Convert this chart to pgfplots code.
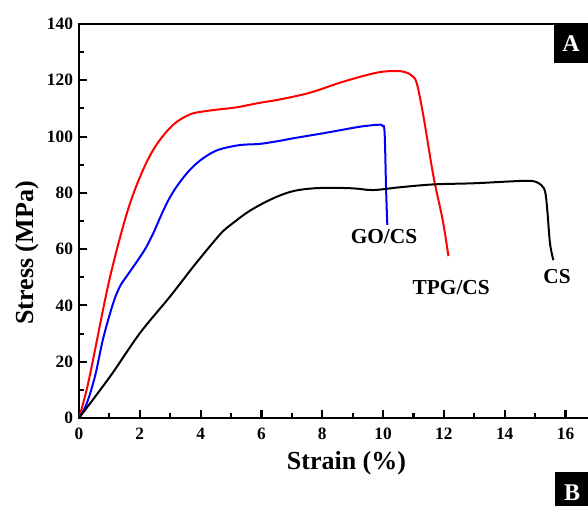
\documentclass[border=0pt]{standalone}
\usepackage{fontspec}
\setmainfont{Liberation Serif}
\usepackage{pgfplots}
\pgfplotsset{compat=1.18}

\begin{document}
\begin{tikzpicture}
\useasboundingbox (-59.25pt,-66pt) rectangle (381.75pt,313.5pt);
\begin{axis}[
  scale only axis,
  width=381.75pt, height=295.5pt,
  xmin=0, xmax=16.74, ymin=0, ymax=140,
  axis x line=box, axis y line=left,
  axis line style={-, line width=2pt, line cap=rect},
  xtick={0,2,...,16}, ytick={0,20,...,140},
  minor x tick num=1, minor y tick num=1,
  xtick pos=bottom, ytick pos=left,
  tick align=inside,
  major tick length=6pt, minor tick length=3.5pt,
  every tick/.style={black, line width=1.6pt},
  /pgf/number format/assume math mode=true,
  ticklabel style={font=\fontsize{13}{15}\selectfont\bfseries},
  xticklabel style={yshift=-4pt},
  yticklabel style={xshift=-1pt},
  xlabel={Strain (\%)},
  ylabel={Stress (MPa)},
  label style={font=\fontsize{19.5}{22}\selectfont\bfseries},
  xlabel style={at={(axis description cs:0.5255,-0.114)}, anchor=center},
  ylabel style={at={(axis description cs:-0.102,0.419)}, anchor=center, rotate=0},
  clip=false,
  every axis plot/.append style={line width=1.5pt, smooth, tension=0.55},
]
% TPG/CS
\addplot[red] coordinates {
(0,0) (0.31,12.8) (0.855,41.9) (1.13,55) (1.51,70.4) (1.8,80) (2.12,88.5)
(2.4,94.5) (2.66,98.8) (2.95,102.6) (3.21,105.2) (3.5,107.1) (3.76,108.3)
(4.2,109.1) (4.64,109.7) (5.19,110.4) (5.95,112.0) (6.61,113.2) (7.6,115.6)
(8.69,119.5) (9.79,122.7) (10.45,123.3) (10.75,122.8) (10.95,121.6)
(11.11,118.9) (11.33,107.1) (11.66,85.7) (11.96,70.4) (12.15,57.5)
};
% GO/CS
\addplot[blue] coordinates {
(0,0) (0.25,5) (0.53,15) (0.8,28.5) (1.13,41) (1.35,46.8) (1.57,50.4)
(1.95,56.3) (2.2,60.5) (2.45,65.8) (2.7,72) (2.95,77.6) (3.21,82.2)
(3.55,87) (3.87,90.5) (4.25,93.5) (4.64,95.5) (5.30,97.0) (5.95,97.4)
(6.61,98.5) (7.05,99.4) (8.15,101.4) (9.24,103.5) (9.85,104.2) (9.98,103.8)
(10.05,101.5) (10.10,81.0) (10.14,68.6)
};
% CS
\addplot[black] coordinates {
(0,0) (1.02,14.7) (2.0,30.1) (2.99,43.1) (3.76,53.8) (4.42,62.5) (4.75,66.5)
(5.08,69.4) (5.5,72.8) (5.95,75.7) (6.50,78.6) (7.0,80.5) (7.5,81.4)
(8.15,81.8) (9.02,81.6) (9.68,81.0) (10.56,82.0) (11.66,83.0) (12.97,83.4)
(14.07,84.0) (14.73,84.3) (15.0,84.0) (15.2,82.8) (15.33,80.4) (15.4,74)
(15.49,62.1) (15.6,56.1)
};
\begin{scope}[every node/.style={font=\fontsize{16}{18}\selectfont\bfseries}]
\node at (axis cs:10.03,64.3) {GO/CS};
\node at (axis cs:12.24,46.2) {TPG/CS};
\node at (axis cs:15.72,50.1) {CS};
\end{scope}
\end{axis}
% panel tags
\fill[black] (356.25pt,266.25pt) rectangle (381.75pt,296.5pt);
\node[white, font=\fontsize{18}{20}\selectfont\bfseries] at (369pt,280.5pt) {A};
\fill[black] (357pt,-40.5pt) rectangle (381.75pt,-66pt);
\node[white, font=\fontsize{18}{20}\selectfont\bfseries] at (369.75pt,-56.25pt) {B};
\end{tikzpicture}
\end{document}
